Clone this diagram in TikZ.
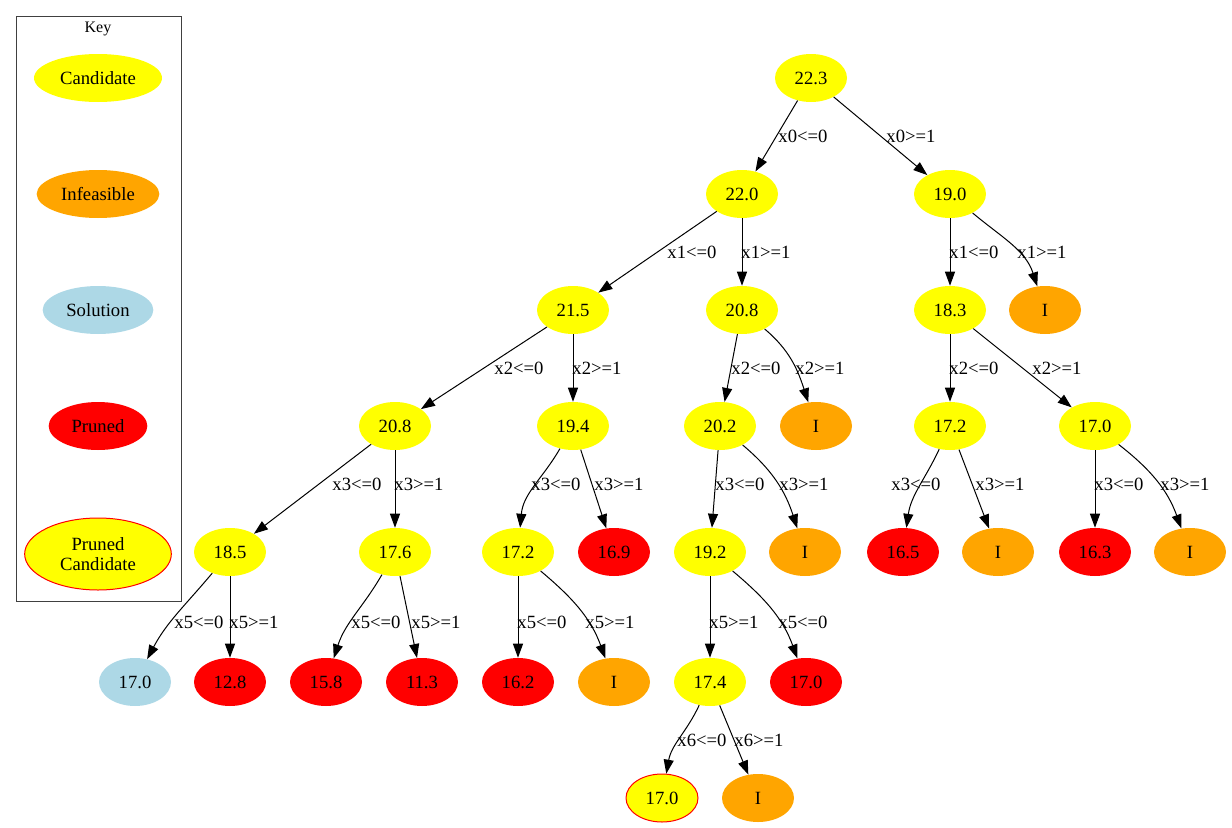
\documentclass[tikz,border=0pt]{standalone}
\usepackage{fontspec}
\setmainfont{Liberation Serif}
\usetikzlibrary{shapes.geometric,arrows.meta}
\definecolor{gvyellow}{RGB}{255,255,0}
\definecolor{gvorange}{RGB}{255,165,0}
\definecolor{gvblue}{RGB}{173,216,230}
\definecolor{gvred}{RGB}{255,0,0}
\begin{document}
\begin{tikzpicture}[x=0.75pt,y=0.75pt,
  every node/.style={font=\fontsize{14pt}{15pt}\selectfont},
  bb/.style={ellipse, inner sep=0pt, minimum width=54pt, minimum height=36pt},
  cand/.style={bb, fill=gvyellow},
  infe/.style={bb, fill=gvorange},
  soln/.style={bb, fill=gvblue},
  prun/.style={bb, fill=gvred},
  pcand/.style={bb, fill=gvyellow, draw=gvred, line width=0.75pt},
  lab/.style={inner sep=0pt},
  edge/.style={line width=0.75pt, -{Triangle[length=10.5pt,width=7.5pt]}},
]
\useasboundingbox (0,0) rectangle (1232,-828);

% legend
\draw[line width=0.75pt, draw=black!75] (16,-16) rectangle (181,-601);
\node[lab, font=\fontsize{12pt}{13pt}\selectfont] (keytitle) at (98,-29) {Key};
\node[cand, minimum width=96pt] (kc) at (98,-78) {Candidate};
\node[infe, minimum width=92pt] (ki) at (98,-194) {Infeasible};
\node[soln, minimum width=83pt] (ks) at (98,-310) {Solution};
\node[prun, minimum width=74pt] (kp) at (98,-426) {Pruned};
\node[pcand, minimum width=110pt, minimum height=54pt, align=center] (kpc) at (98,-554) {Pruned\\Candidate};

% level 0
\node[cand] (n0) at (811,-78) {22.3};
% level 1
\node[cand] (n1) at (742,-194) {22.0};
\node[cand] (n2) at (950,-194) {19.0};
% level 2
\node[cand] (n3) at (573,-310) {21.5};
\node[cand] (n4) at (742,-310) {20.8};
\node[cand] (n5) at (950,-310) {18.3};
\node[infe] (n6) at (1045,-310) {I};
% level 3
\node[cand] (n7) at (395,-426) {20.8};
\node[cand] (n8) at (573,-426) {19.4};
\node[cand] (n9) at (720,-426) {20.2};
\node[infe] (n10) at (816,-426) {I};
\node[cand] (n11) at (950,-426) {17.2};
\node[cand] (n12) at (1095,-426) {17.0};
% level 4
\node[cand] (n13) at (230,-552) {18.5};
\node[cand] (n14) at (395,-552) {17.6};
\node[cand] (n15) at (518,-552) {17.2};
\node[prun] (n16) at (614,-552) {16.9};
\node[cand] (n17) at (710,-552) {19.2};
\node[infe] (n18) at (805,-552) {I};
\node[prun] (n19) at (903,-552) {16.5};
\node[infe] (n20) at (998,-552) {I};
\node[prun] (n21) at (1095,-552) {16.3};
\node[infe] (n22) at (1190,-552) {I};
% level 5
\node[soln] (n23) at (135,-682) {17.0};
\node[prun] (n24) at (230,-682) {12.8};
\node[prun] (n25) at (326,-682) {15.8};
\node[prun] (n26) at (422,-682) {11.3};
\node[prun] (n27) at (518,-682) {16.2};
\node[infe] (n28) at (614,-682) {I};
\node[cand] (n29) at (710,-682) {17.4};
\node[prun] (n30) at (806,-682) {17.0};
% level 6
\node[pcand] (n31) at (662,-798) {17.0};
\node[infe] (n32) at (758,-798) {I};

% branches
\draw[edge] (n0) -- (n1);
\draw[edge] (n0) -- (n2);
\draw[edge] (n1) -- (n3);
\draw[edge] (n1) -- (n4);
\draw[edge] (n2) -- (n5);
\draw[edge] (n2) to[out=-40,in=108] (n6);
\draw[edge] (n3) -- (n7);
\draw[edge] (n3) -- (n8);
\draw[edge] (n4) -- (n9);
\draw[edge] (n4) to[out=-40,in=108] (n10);
\draw[edge] (n5) -- (n11);
\draw[edge] (n5) -- (n12);
\draw[edge] (n7) -- (n13);
\draw[edge] (n7) -- (n14);
\draw[edge] (n8) to[out=-120,in=85] (n15);
\draw[edge] (n8) -- (n16);
\draw[edge] (n9) -- (n17);
\draw[edge] (n9) to[out=-40,in=108] (n18);
\draw[edge] (n11) to[out=-115,in=82] (n19);
\draw[edge] (n11) -- (n20);
\draw[edge] (n12) -- (n21);
\draw[edge] (n12) to[out=-38,in=110] (n22);
\draw[edge] (n13) to[out=-130,in=62] (n23);
\draw[edge] (n13) -- (n24);
\draw[edge] (n14) to[out=-120,in=72] (n25);
\draw[edge] (n14) -- (n26);
\draw[edge] (n15) -- (n27);
\draw[edge] (n15) to[out=-40,in=110] (n28);
\draw[edge] (n17) -- (n29);
\draw[edge] (n17) to[out=-40,in=110] (n30);
\draw[edge] (n29) to[out=-115,in=80] (n31);
\draw[edge] (n29) -- (n32);

% branch labels
\node[lab] (l1) at (803,-136) {x0<=0};
\node[lab] (l2) at (911,-136) {x0>=1};
\node[lab] (l3) at (692,-252) {x1<=0};
\node[lab] (l4) at (766,-252) {x1>=1};
\node[lab] (l5) at (974,-252) {x1<=0};
\node[lab] (l6) at (1042,-252) {x1>=1};
\node[lab] (l7) at (519,-368) {x2<=0};
\node[lab] (l8) at (597,-368) {x2>=1};
\node[lab] (l9) at (756,-368) {x2<=0};
\node[lab] (l10) at (820,-368) {x2>=1};
\node[lab] (l11) at (974,-368) {x2<=0};
\node[lab] (l12) at (1057,-368) {x2>=1};
\node[lab] (l13) at (357,-484) {x3<=0};
\node[lab] (l14) at (419,-484) {x3>=1};
\node[lab] (l15) at (556,-484) {x3<=0};
\node[lab] (l16) at (619,-484) {x3>=1};
\node[lab] (l17) at (740,-484) {x3<=0};
\node[lab] (l18) at (804,-484) {x3>=1};
\node[lab] (l19) at (916,-484) {x3<=0};
\node[lab] (l20) at (1000,-484) {x3>=1};
\node[lab] (l21) at (1119,-484) {x3<=0};
\node[lab] (l22) at (1185,-484) {x3>=1};
\node[lab] (l23) at (199,-622) {x5<=0};
\node[lab] (l24) at (254,-622) {x5>=1};
\node[lab] (l25) at (376,-622) {x5<=0};
\node[lab] (l26) at (436,-622) {x5>=1};
\node[lab] (l27) at (542,-622) {x5<=0};
\node[lab] (l28) at (610,-622) {x5>=1};
\node[lab] (l29) at (734,-622) {x5>=1};
\node[lab] (l30) at (803,-622) {x5<=0};
\node[lab] (l31) at (702,-740) {x6<=0};
\node[lab] (l32) at (759,-740) {x6>=1};
\end{tikzpicture}
\end{document}
